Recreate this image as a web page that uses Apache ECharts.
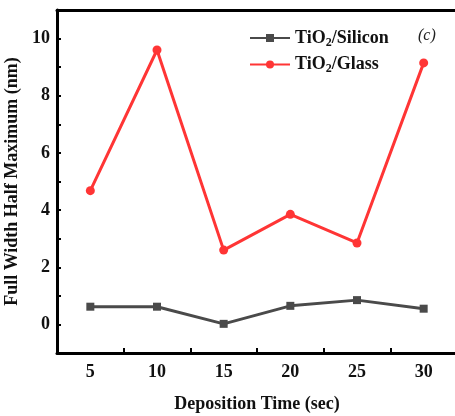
<!DOCTYPE html>
<html><head><meta charset="utf-8">
<script src="https://cdn.jsdelivr.net/npm/echarts@6/dist/echarts.min.js"></script>
<style>html,body{margin:0;padding:0;background:#fff}#c{width:455px;height:416px}</style>
</head><body><div id="c"></div>
<script>
const depositionTime = [5, 10, 15, 20, 25, 30];
const silicon = [0.62, 0.62, 0.02, 0.65, 0.85, 0.55];
const glass = [4.68, 9.6, 2.6, 3.85, 2.85, 9.15];
const xTicks = [5, 10, 15, 20, 25, 30];
const yTicks = [0, 2, 4, 6, 8, 10];

const font = 'Liberation Serif';
const chart = echarts.init(document.getElementById('c'));
const pair = (xs, ys) => xs.map((x, i) => [x, ys[i]]);
chart.setOption({
  animation: false,
  grid: {left: 57, top: 10, width: 400, height: 343, outerBoundsMode: 'none', containLabel: false},
  legend: {
    left: 249, top: 29, padding: 0, orient: 'vertical', itemGap: 7, itemWidth: 40, itemHeight: 10,
    textStyle: {fontFamily: font, fontWeight: 'bold', fontSize: 18, color: '#111',
      rich: {s: {fontFamily: font, fontWeight: 'bold', fontSize: 12, color: '#111', verticalAlign: 'bottom', padding: [9, 0, 0, 0]}}},
    formatter: n => n === 'Silicon' ? 'TiO{s|2}/Silicon' : 'TiO{s|2}/Glass',
    data: ['Silicon', 'Glass']
  },
  graphic: [{type: 'text', left: 418, top: 28, style: {text: '(c)', font: 'italic 16px "Liberation Serif"', fill: '#222'}}],
  xAxis: [{
    type: 'value', min: 2.5, max: 32.5, interval: 5,
    name: 'Deposition Time (sec)', nameLocation: 'middle', nameGap: 42,
    nameTextStyle: {fontFamily: font, fontWeight: 'bold', fontSize: 18, color: '#111'},
    axisLine: {show: true, onZero: false, lineStyle: {color: '#000', width: 3}},
    axisTick: {show: true, inside: true, length: 5, lineStyle: {color: '#000', width: 2}},
    axisLabel: {fontFamily: font, fontWeight: 'bold', fontSize: 18, color: '#111', margin: 10,
      customValues: xTicks},
    splitLine: {show: false}
  }, {
    type: 'value', position: 'top', min: 2.5, max: 32.5,
    axisLine: {show: true, onZero: false, lineStyle: {color: '#000', width: 3}},
    axisTick: {show: false}, axisLabel: {show: false}, splitLine: {show: false}
  }],
  yAxis: {
    type: 'value', min: -1, max: 11, interval: 1,
    name: 'Full Width Half Maximum (nm)', nameLocation: 'middle', nameGap: 30,
    nameTextStyle: {fontFamily: font, fontWeight: 'bold', fontSize: 18, color: '#111'},
    axisLine: {show: true, onZero: false, lineStyle: {color: '#000', width: 3}},
    axisTick: {show: true, inside: true, length: 4, lineStyle: {color: '#000', width: 2}},
    axisLabel: {fontFamily: font, fontWeight: 'bold', fontSize: 18, color: '#111', margin: 7,
      customValues: yTicks},
    splitLine: {show: false}
  },
  series: [{
    name: 'Silicon', type: 'line', data: pair(depositionTime, silicon),
    symbol: 'rect', symbolSize: 8, color: '#4a4a4a',
    lineStyle: {width: 3, color: '#4a4a4a'}, itemStyle: {color: '#4a4a4a'}
  }, {
    name: 'Glass', type: 'line', data: pair(depositionTime, glass),
    symbol: 'circle', symbolSize: 9, color: '#ff3535',
    lineStyle: {width: 3, color: '#ff3535'}, itemStyle: {color: '#ff3535'}
  }]
});
</script></body></html>
